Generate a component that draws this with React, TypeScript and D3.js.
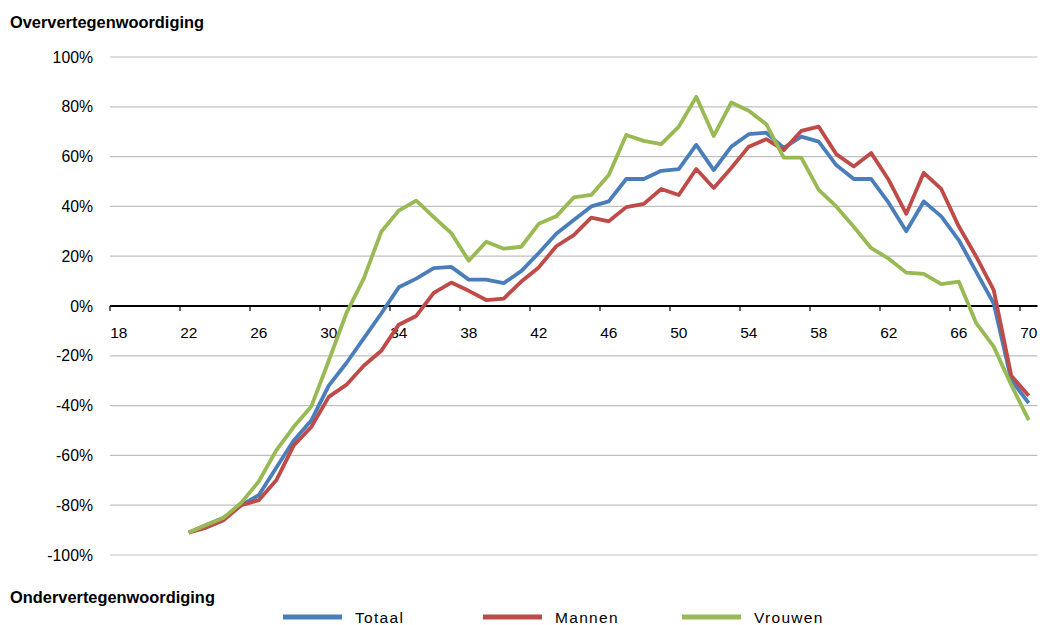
import React, { useEffect, useRef } from 'react';
import * as d3 from 'd3';

// ages shown on the category axis (18..70), data runs 22..70
const CATEGORIES = d3.range(18, 71);
const DATA_AGES = d3.range(22, 71);
const TICK_LABELS = [18, 22, 26, 30, 34, 38, 42, 46, 50, 54, 58, 62, 66, 70];
const Y_TICKS = [-100, -80, -60, -40, -20, 0, 20, 40, 60, 80, 100];

const TOTAAL = [
  -91, -88, -85, -80, -76, -65, -54, -46, -32, -23, -13, -3, 7.5, 11, 15.2, 15.7,
  10.6, 10.6, 9.2, 14, 21.3, 29, 34.5, 40, 42, 51, 51, 54.3, 55, 64.7, 54.6, 64,
  69, 69.6, 63.5, 68, 66, 56.6, 51, 51, 41.4, 30, 42, 36, 26.5, 13.7, 1, -29.7, -39,
];
const MANNEN = [
  -91, -89, -86, -80, -78, -70, -56, -48.6, -36.5, -31.7, -24, -18, -7.5, -4, 5.3, 9.4,
  6.1, 2.4, 3, 9.8, 15.5, 24, 28.5, 35.5, 34, 39.7, 41, 47, 44.6, 55, 47.4, 55.4,
  64, 67, 62.6, 70.3, 72, 61, 56, 61.4, 50.6, 37, 53.5, 47, 32, 19.8, 6.4, -28, -36,
];
const VROUWEN = [
  -91, -88, -85, -79, -70.5, -58, -48.5, -40.4, -22, -3, 11, 29.8, 38.3, 42.3, 35.7, 29.3,
  18.2, 25.8, 23, 23.8, 33, 36, 43.6, 44.6, 52.6, 68.7, 66.3, 65, 72, 84, 68.3, 81.7,
  78.4, 73, 59.6, 59.6, 46.6, 40, 31.8, 23.2, 19, 13.4, 12.9, 8.8, 9.8, -6.9, -16.3, -31.7, -45.8,
];

const SERIES = [
  { name: 'Totaal', values: TOTAAL, color: '#4a7ebb' },
  { name: 'Mannen', values: MANNEN, color: '#be4b48' },
  { name: 'Vrouwen', values: VROUWEN, color: '#98b954' },
];

const W = 1042;
const H = 625;
const FONT = 'Liberation Sans, Arial, sans-serif';

export default function App() {
  const svgRef = useRef<SVGSVGElement>(null);

  useEffect(() => {
    if (!svgRef.current) return;
    const svg = d3.select(svgRef.current);
    svg.selectAll('*').remove();

    const x = d3
      .scaleBand<number>()
      .domain(CATEGORIES)
      .range([110, 1037.5]);
    const cx = (age: number) => (x(age) as number) + x.bandwidth() / 2;
    const y = d3.scaleLinear().domain([-100, 100]).range([555, 57]);

    // gridlines
    svg
      .append('g')
      .selectAll('line')
      .data(Y_TICKS.filter((t) => t !== 0))
      .enter()
      .append('line')
      .attr('x1', 110)
      .attr('x2', 1037.5)
      .attr('y1', (d) => y(d))
      .attr('y2', (d) => y(d))
      .attr('stroke', '#c0c0c0')
      .attr('stroke-width', 1.2);

    // y labels
    svg
      .append('g')
      .selectAll('text')
      .data(Y_TICKS)
      .enter()
      .append('text')
      .attr('x', 93)
      .attr('y', (d) => y(d) + 5.5)
      .attr('text-anchor', 'end')
      .attr('font-family', FONT)
      .attr('font-size', 15.8)
      .attr('fill', '#000')
      .text((d) => `${d}%`);

    // zero axis with ticks between categories
    const axis = svg.append('g');
    axis
      .append('line')
      .attr('x1', 110)
      .attr('x2', 1037.5)
      .attr('y1', y(0))
      .attr('y2', y(0))
      .attr('stroke', '#000')
      .attr('stroke-width', 2);
    axis
      .selectAll('line.tick')
      .data(TICK_LABELS)
      .enter()
      .append('line')
      .attr('class', 'tick')
      .attr('x1', (d) => x(d) as number)
      .attr('x2', (d) => x(d) as number)
      .attr('y1', y(0))
      .attr('y2', y(0) + 5)
      .attr('stroke', '#000')
      .attr('stroke-width', 1.2);
    axis
      .selectAll('text')
      .data(TICK_LABELS)
      .enter()
      .append('text')
      .attr('x', (d) => cx(d))
      .attr('y', y(0) + 32)
      .attr('text-anchor', 'middle')
      .attr('font-family', FONT)
      .attr('font-size', 15.5)
      .text((d) => d);

    // series lines
    const line = d3
      .line<number>()
      .x((_, i) => cx(DATA_AGES[i]))
      .y((d) => y(d));
    svg
      .append('g')
      .selectAll('path')
      .data(SERIES)
      .enter()
      .append('path')
      .attr('d', (d) => line(d.values))
      .attr('fill', 'none')
      .attr('stroke', (d) => d.color)
      .attr('stroke-width', 3.8)
      .attr('stroke-linejoin', 'round');

    // titles
    svg
      .append('text')
      .attr('x', 10)
      .attr('y', 28)
      .attr('font-family', FONT)
      .attr('font-weight', 'bold')
      .attr('font-size', 16.4)
      .text('Oververtegenwoordiging');
    svg
      .append('text')
      .attr('x', 10)
      .attr('y', 603)
      .attr('font-family', FONT)
      .attr('font-weight', 'bold')
      .attr('font-size', 16.4)
      .text('Ondervertegenwoordiging');

    // legend
    const legendX = [283, 483, 682];
    const lg = svg
      .append('g')
      .selectAll('g')
      .data(SERIES)
      .enter()
      .append('g')
      .attr('transform', (_, i) => `translate(${legendX[i]},617)`);
    lg.append('line')
      .attr('x1', 0)
      .attr('x2', 59)
      .attr('stroke', (d) => d.color)
      .attr('stroke-width', 5);
    lg.append('text')
      .attr('x', 72)
      .attr('y', 6)
      .attr('font-family', FONT)
      .attr('font-size', 15.5)
      .attr('letter-spacing', 1.3)
      .text((d) => d.name);
  }, []);

  return (
    <svg
      ref={svgRef}
      width={W}
      height={H}
      style={{ position: 'absolute', top: 0, left: 0, background: '#fff' }}
    />
  );
}
